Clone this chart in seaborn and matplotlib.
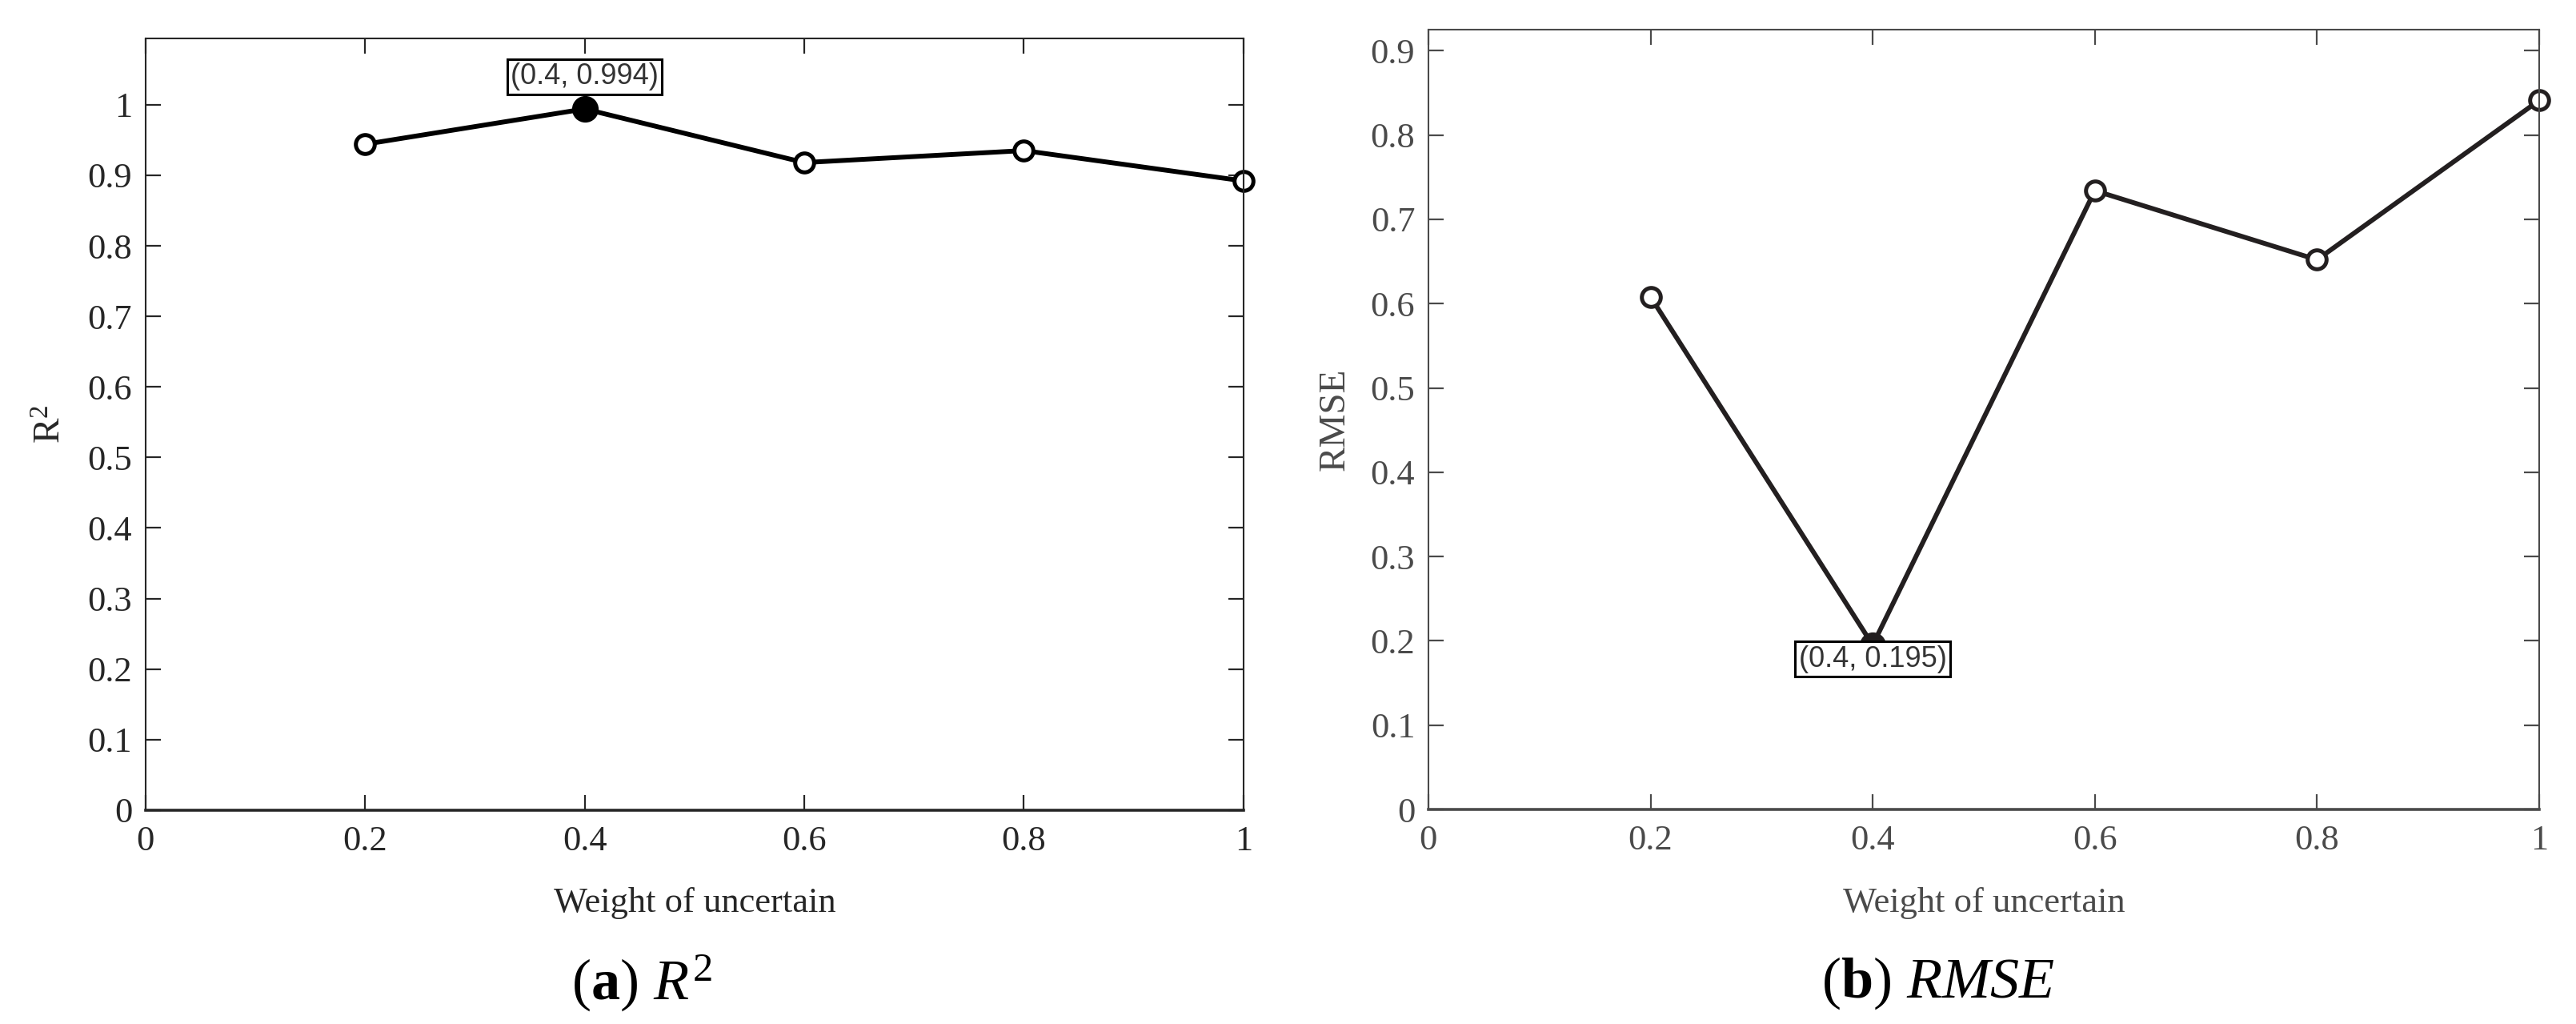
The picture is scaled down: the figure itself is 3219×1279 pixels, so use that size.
import matplotlib
matplotlib.use('Agg')
import matplotlib.pyplot as plt
import pandas as pd
import seaborn as sns
from matplotlib.ticker import FuncFormatter

# values
weights = [0.2, 0.4, 0.6, 0.8, 1.0]
r2_values = [0.944, 0.994, 0.918, 0.935, 0.892]
rmse_values = [0.608, 0.195, 0.734, 0.652, 0.841]
x_ticks = [0, 0.2, 0.4, 0.6, 0.8, 1]
r2_yticks = [0, 0.1, 0.2, 0.3, 0.4, 0.5, 0.6, 0.7, 0.8, 0.9, 1]
rmse_yticks = [0, 0.1, 0.2, 0.3, 0.4, 0.5, 0.6, 0.7, 0.8, 0.9]

sns.set_theme(style='white')
plt.rcParams['font.family'] = ['Liberation Serif', 'DejaVu Serif']
plt.rcParams['mathtext.fontset'] = 'custom'
plt.rcParams['mathtext.rm'] = 'Liberation Serif'
plt.rcParams['mathtext.it'] = 'Liberation Serif:italic'
plt.rcParams['mathtext.bf'] = 'Liberation Serif:bold'

df_r2 = pd.DataFrame({'w': weights, 'v': r2_values})
df_rmse = pd.DataFrame({'w': weights, 'v': rmse_values})

fig = plt.figure(figsize=(32.19, 12.79), dpi=100)
ax1 = fig.add_axes([0.0565, 0.2088, 0.4262, 0.7537])
ax2 = fig.add_axes([0.5545, 0.2095, 0.4312, 0.7616])

fmt = FuncFormatter(lambda v, p: '%g' % round(v, 2))


def draw_panel(ax, df, best_idx, ylim, yticks, ylabel, label_x, axcol, linecol, tip_y, tip_va):
    sns.lineplot(data=df, x='w', y='v', ax=ax, color=linecol, linewidth=4.3,
                 marker='o', markersize=17, markerfacecolor='white',
                 markeredgecolor=linecol, markeredgewidth=3.6, clip_on=False)
    best = df.iloc[[best_idx]]
    sns.scatterplot(data=best, x='w', y='v', ax=ax, color=linecol, s=480,
                    edgecolor=linecol, linewidth=2, zorder=5, clip_on=False)
    bx, by = best['w'].iloc[0], best['v'].iloc[0]
    ax.annotate('(%g, %.3f)' % (bx, by), xy=(bx, tip_y), ha='center', va=tip_va,
                fontsize=26, family=['Liberation Sans', 'DejaVu Sans'], color='#333333',
                bbox=dict(boxstyle='square,pad=0.12', fc='white', ec='black', lw=2.2),
                zorder=6)
    ax.set_xlim(0, 1)
    ax.set_ylim(*ylim)
    ax.set_xticks(x_ticks)
    ax.set_yticks(yticks)
    ax.xaxis.set_major_formatter(fmt)
    ax.yaxis.set_major_formatter(fmt)
    ax.tick_params(direction='in', length=14, width=1.6, colors=axcol, labelsize=32,
                   top=True, right=True, bottom=True, left=True)
    ax.tick_params(axis='x', pad=14)
    ax.tick_params(axis='y', pad=12)
    for s in ax.spines.values():
        s.set_color(axcol)
        s.set_linewidth(1.5)
    ax.spines['bottom'].set_linewidth(2.6)
    ax.set_xlabel('Weight of uncertain', fontsize=32, color=axcol)
    ax.set_ylabel(ylabel, fontsize=34, color=axcol)
    ax.xaxis.set_label_coords(0.5, -0.1)
    ax.yaxis.set_label_coords(label_x, 0.5)


draw_panel(ax1, df_r2, r2_values.index(max(r2_values)), (0, 1.094), r2_yticks,
           r'R$^2$', -0.070, '#262626', 'black', 1.02, 'bottom')
draw_panel(ax2, df_rmse, rmse_values.index(min(rmse_values)), (0, 0.925), rmse_yticks,
           'RMSE', -0.0684, '#4a4a4a', '#231f20', 0.195, 'top')

fig.text(0.2490, 0.040, r'($\mathbf{a}$) $R^2$', ha='center', va='center', fontsize=52, color='black')
fig.text(0.7524, 0.040, r'($\mathbf{b}$) $RMSE$', ha='center', va='center', fontsize=52, color='black')

fig.savefig('out.png', dpi=100)
